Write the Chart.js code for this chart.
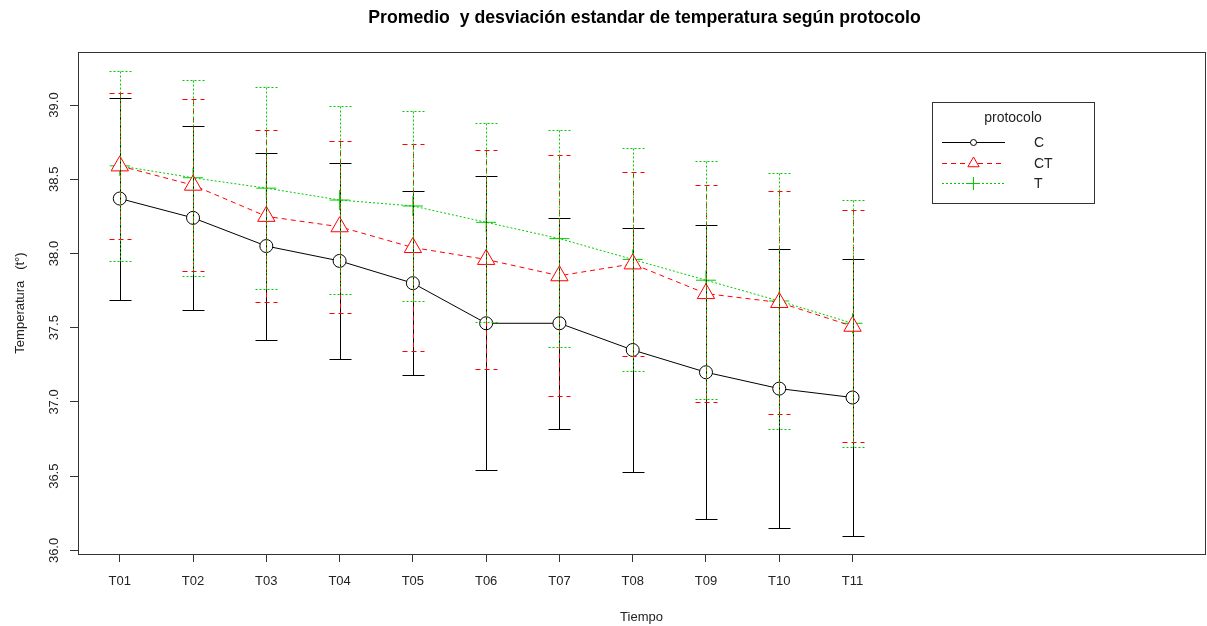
<!DOCTYPE html>
<html>
<head>
<meta charset="utf-8">
<script src="https://cdn.jsdelivr.net/npm/chart.js@4.4.0/dist/chart.umd.min.js"></script>
<style>
  body { margin: 0; background: #fff; }
  canvas { display: block; }
</style>
</head>
<body>
<canvas id="grafico" width="1207" height="626"></canvas>
<script>
// datos
const tiempos = ["T01", "T02", "T03", "T04", "T05", "T06", "T07", "T08", "T09", "T10", "T11"];
const yTicks = [36.0, 36.5, 37.0, 37.5, 38.0, 38.5, 39.0];

const mediaC  = [38.37, 38.24, 38.05, 37.95, 37.80, 37.53, 37.53, 37.35, 37.20, 37.09, 37.03];
const sdC     = [0.68, 0.62, 0.63, 0.66, 0.62, 0.99, 0.71, 0.82, 0.99, 0.94, 0.93];
const mediaCT = [38.59, 38.46, 38.25, 38.18, 38.04, 37.96, 37.85, 37.93, 37.73, 37.67, 37.51];
const sdCT    = [0.49, 0.58, 0.58, 0.58, 0.70, 0.74, 0.81, 0.62, 0.73, 0.75, 0.78];
const mediaT  = [38.59, 38.51, 38.44, 38.36, 38.32, 38.21, 38.10, 37.96, 37.82, 37.68, 37.53];
const sdT     = [0.64, 0.66, 0.68, 0.63, 0.64, 0.67, 0.73, 0.75, 0.80, 0.86, 0.83];

const VERDE = "#00cd00";

function puntos(medias) {
  return medias.map((m, i) => ({ x: i + 1, y: m }));
}

const series = [
  { nombre: "C", medias: mediaC, sds: sdC, color: "#000000", dash: [], estilo: "circle", radio: 6.5 },
  { nombre: "CT", medias: mediaCT, sds: sdCT, color: "#ff0000", dash: [5, 4], estilo: "triangle", radio: 10 },
  { nombre: "T", medias: mediaT, sds: sdT, color: VERDE, dash: [2, 2], estilo: "cross", radio: 10 }
];

// barras de error + textos + caja
const extras = {
  id: "extras",
  afterDatasetsDraw(chart) {
    const ctx = chart.ctx;
    const xs = chart.scales.x, ys = chart.scales.y;
    ctx.save();
    ctx.lineWidth = 1;
    series.forEach(s => {
      ctx.strokeStyle = s.color;
      ctx.setLineDash(s.dash);
      s.medias.forEach((m, i) => {
        const px = Math.round(xs.getPixelForValue(i + 1)) + 0.5;
        const top = Math.round(ys.getPixelForValue(m + s.sds[i])) + 0.5;
        const bot = Math.round(ys.getPixelForValue(m - s.sds[i])) + 0.5;
        ctx.beginPath();
        ctx.moveTo(px, top); ctx.lineTo(px, bot);
        ctx.moveTo(px - 11, top); ctx.lineTo(px + 11, top);
        ctx.moveTo(px - 11, bot); ctx.lineTo(px + 11, bot);
        ctx.stroke();
      });
    });
    ctx.restore();
  },
  afterDraw(chart) {
    const ctx = chart.ctx;
    const a = chart.chartArea;
    const xs = chart.scales.x, ys = chart.scales.y;
    ctx.save();
    // caja
    ctx.strokeStyle = "#333";
    ctx.lineWidth = 1;
    ctx.strokeRect(Math.round(a.left) + 0.5, Math.round(a.top) + 0.5, Math.round(a.right - a.left), Math.round(a.bottom - a.top));

    // titulo
    ctx.fillStyle = "#000";
    ctx.font = "bold 17.7px 'Liberation Sans', Arial, sans-serif";
    ctx.textAlign = "center";
    ctx.textBaseline = "middle";
    ctx.fillText("Promedio  y desviación estandar de temperatura según protocolo", (a.left + a.right) / 2 + 3, 18);

    // etiquetas eje x
    ctx.fillStyle = "#222";
    ctx.font = "13px 'Liberation Sans', Arial, sans-serif";
    tiempos.forEach((t, i) => {
      ctx.fillText(t, xs.getPixelForValue(i + 1), 581);
    });
    ctx.fillText("Tiempo", (a.left + a.right) / 2, 617);

    // etiquetas eje y (giradas)
    yTicks.forEach(v => {
      ctx.save();
      ctx.translate(54, ys.getPixelForValue(v));
      ctx.rotate(-Math.PI / 2);
      ctx.fillText(v.toFixed(1), 0, 0);
      ctx.restore();
    });
    ctx.save();
    ctx.translate(20, (a.top + a.bottom) / 2);
    ctx.rotate(-Math.PI / 2);
    ctx.fillText("Temperatura   (t°)", 0, 0);
    ctx.restore();

    // leyenda
    ctx.strokeStyle = "#333";
    ctx.strokeRect(932.5, 102.5, 162, 101);
    ctx.fillStyle = "#222";
    ctx.font = "14px 'Liberation Sans', Arial, sans-serif";
    ctx.fillText("protocolo", 1013, 118);
    ctx.textAlign = "left";
    series.forEach((s, k) => {
      const y = Math.round(142 + k * 20.5) + 0.5;
      ctx.strokeStyle = s.color;
      ctx.setLineDash(s.dash);
      ctx.beginPath();
      ctx.moveTo(942, y); ctx.lineTo(1005, y);
      ctx.stroke();
      ctx.setLineDash([]);
      ctx.fillStyle = "#ffffff";
      ctx.strokeStyle = s.color;
      const r = s.estilo === "circle" ? 3 : 6.5;
      Chart.helpers.drawPoint(ctx, { pointStyle: s.estilo, radius: r, borderWidth: 1 }, 973.5, y);
      ctx.fillStyle = "#222";
      ctx.fillText(s.nombre, 1034, y + 1);
    });
    ctx.restore();
  }
};

new Chart(document.getElementById("grafico").getContext("2d"), {
  type: "line",
  data: {
    datasets: series.map(s => ({
      label: s.nombre,
      data: puntos(s.medias),
      borderColor: s.color,
      borderWidth: 1,
      borderDash: s.dash,
      pointStyle: s.estilo,
      pointRadius: s.radio,
      pointBorderColor: s.color,
      pointBackgroundColor: "#ffffff",
      pointBorderWidth: 1,
      tension: 0,
      fill: false,
      clip: false
    }))
  },
  options: {
    responsive: false,
    animation: false,
    layout: { autoPadding: false, padding: { left: 70, right: 2, top: 52, bottom: 64 } },
    plugins: { legend: { display: false }, tooltip: { enabled: false }, title: { display: false } },
    scales: {
      x: {
        type: "linear",
        min: 0.43,
        max: 15.81,
        afterBuildTicks: sc => { sc.ticks = tiempos.map((_, i) => ({ value: i + 1 })); },
        ticks: { display: false },
        grid: { drawOnChartArea: false, drawTicks: true, tickLength: 8, color: "#333" },
        border: { display: true, color: "#333" }
      },
      y: {
        type: "linear",
        min: 35.976,
        max: 39.357,
        afterBuildTicks: sc => { sc.ticks = yTicks.map(v => ({ value: v })); },
        ticks: { display: false },
        grid: { drawOnChartArea: false, drawTicks: true, tickLength: 8, color: "#333" },
        border: { display: true, color: "#333" }
      }
    }
  },
  plugins: [extras]
});
</script>
</body>
</html>
